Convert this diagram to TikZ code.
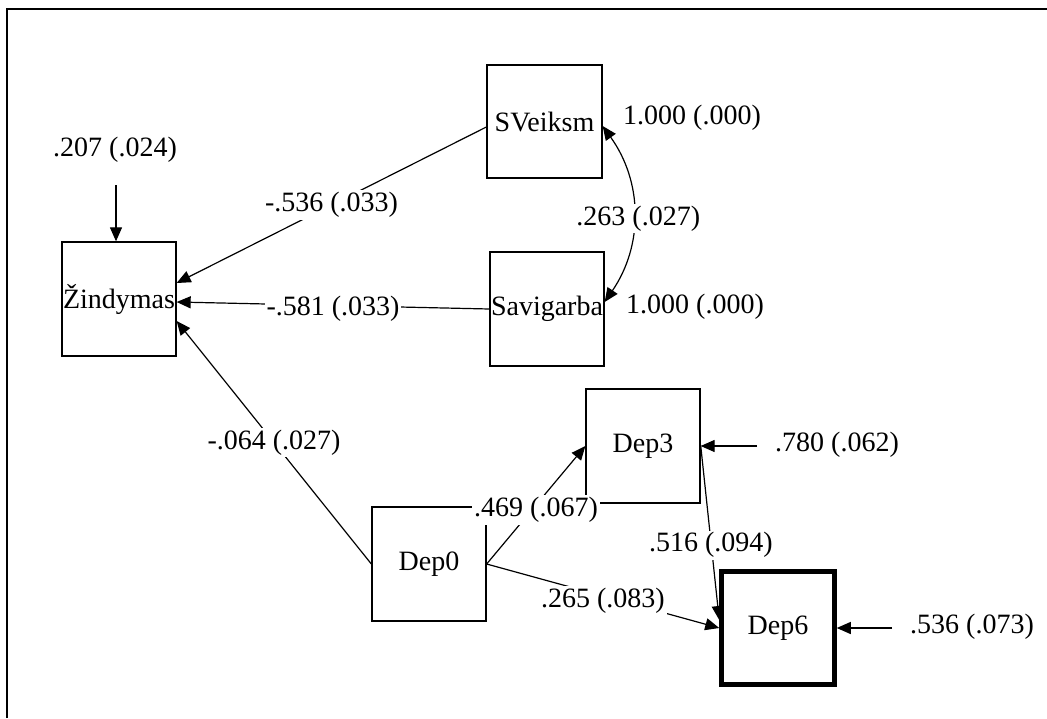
\documentclass[tikz,border=0pt]{standalone}
\usepackage{fontspec}
\setmainfont{Liberation Serif}
\usetikzlibrary{arrows.meta}
\begin{document}
\begin{tikzpicture}[x=1pt,y=-1pt,
  font=\fontsize{28}{30}\selectfont,
  var/.style={draw, line width=1.3pt, minimum width=114pt, minimum height=114pt, inner sep=0pt},
  arr/.style={line width=1.2pt, -{Triangle[length=14pt,width=12pt]}},
  dbl/.style={line width=1.2pt, {Triangle[length=14pt,width=12pt]}-{Triangle[length=14pt,width=12pt]}},
  lab/.style={fill=white, inner sep=2pt}]
\useasboundingbox (0,0) rectangle (1047,718);
\draw[line width=2pt] (7,718) -- (7,9) -- (1047,9);

\node[var] (Z) at (119,299) {Žindymas};
\node[var, minimum width=115pt, minimum height=113pt] (SV) at (544.5,121.5) {SVeiksm};
\node[var] (SA) at (547,309) {Savigarba};
\node[var] (D3) at (643,446) {Dep3};
\node[var] (D0) at (429,564) {Dep0};
\node[var, line width=4.5pt, minimum width=113pt, minimum height=113pt] (D6) at (778,628) {Dep6};

% residuals
\node (R1) at (115,150) {.207 (.024)};
\coordinate (r1) at (116,185);
\draw[arr] (r1) -- ([xshift=-3pt]Z.north);
\node (R3) at (837,445) {.780 (.062)};
\coordinate (r3) at (757,446);
\draw[arr] (r3) -- (D3.east);
\node (R6) at (972,627) {.536 (.073)};
\coordinate (r6) at (892,628);
\draw[arr] (r6) -- (D6.east);
\node (V1) at (692,118) {1.000 (.000)};
\node (V2) at (695,307) {1.000 (.000)};

% paths
\draw[arr] ([yshift=-5.5pt]SV.west) -- node[lab, pos=0.5] (l1) {-.536 (.033)} ([yshift=16pt]Z.east);
\draw[arr] (SA.west) -- node[lab, pos=0.5, yshift=-3pt] (l2) {-.581 (.033)} ([yshift=-3pt]Z.east);
\draw[arr] (D0.west) -- node[lab, pos=0.5] (l3) {-.064 (.027)} ([yshift=-22pt]Z.east);
\draw[arr] (D0.east) -- node[lab, pos=0.5, yshift=-5pt] (l4) {.469 (.067)} (D3.west);
\draw[arr] (D0.east) -- node[lab, pos=0.5, yshift=-5pt] (l5) {.265 (.083)} (D6.west);
\draw[arr] ([yshift=1pt]D3.east) -- node[lab, pos=0.55, yshift=-4pt] (l6) {.516 (.094)} ([yshift=8pt]D6.west);
\draw[dbl] ([yshift=-4.5pt]SV.east) to[bend left=35] node[lab, pos=0.5, xshift=5pt, yshift=-5pt] (l7) {.263 (.027)} ([yshift=7pt]SA.east);
\end{tikzpicture}
\end{document}
